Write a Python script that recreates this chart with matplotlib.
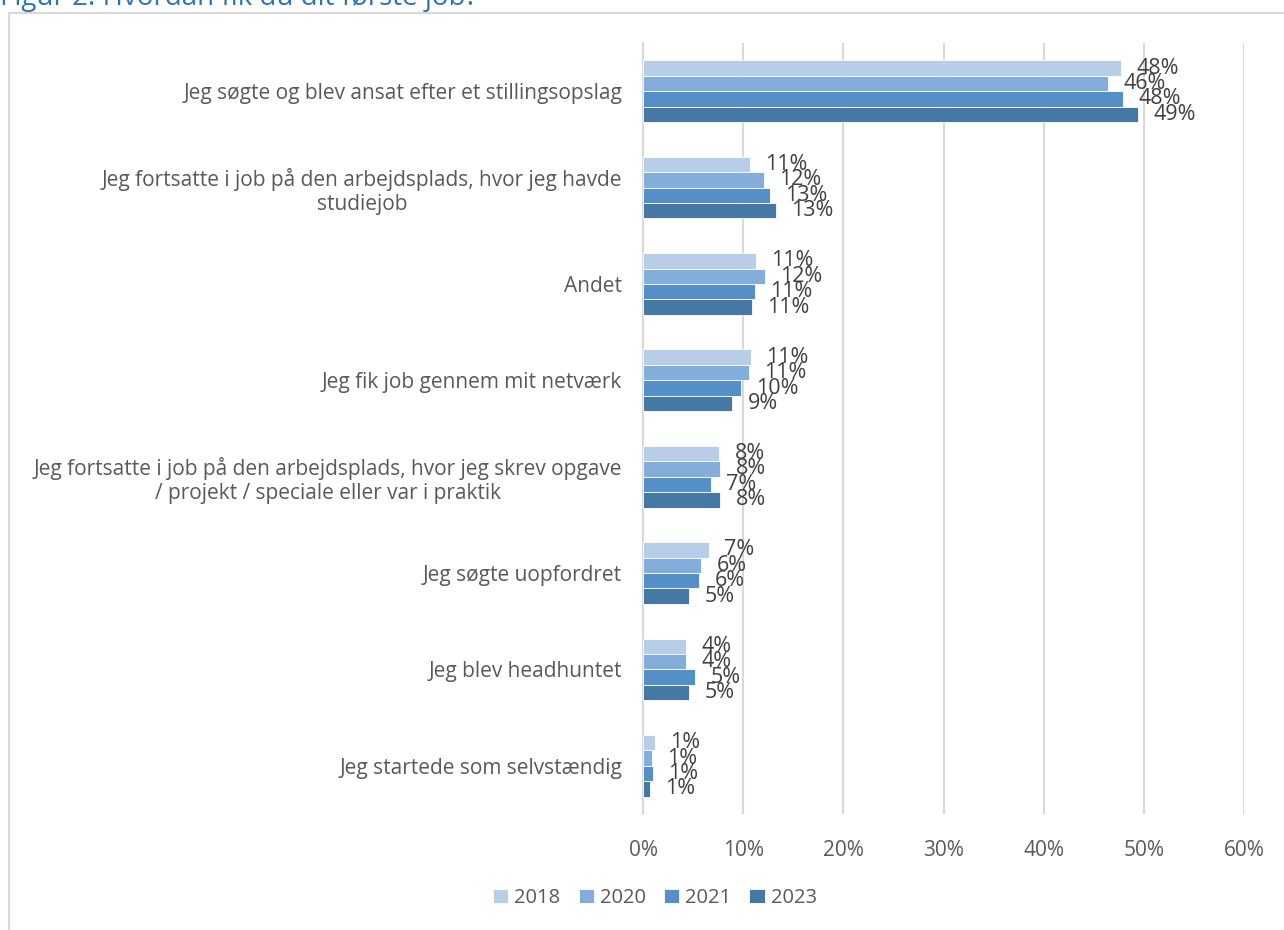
import matplotlib
matplotlib.use("Agg")
import matplotlib.pyplot as plt
from matplotlib.patches import Rectangle
import numpy as np

categories = [
    "Jeg søgte og blev ansat efter et stillingsopslag",
    "Jeg fortsatte i job på den arbejdsplads, hvor jeg havde\nstudiejob",
    "Andet",
    "Jeg fik job gennem mit netværk",
    "Jeg fortsatte i job på den arbejdsplads, hvor jeg skrev opgave\n/ projekt / speciale eller var i praktik",
    "Jeg søgte uopfordret",
    "Jeg blev headhuntet",
    "Jeg startede som selvstændig",
]
years = ["2018", "2020", "2021", "2023"]
v2018 = [47.7, 10.7, 11.3, 10.8, 7.6, 6.6, 4.3, 1.2]
v2020 = [46.4, 12.1, 12.2, 10.6, 7.7, 5.8, 4.3, 0.9]
v2021 = [47.9, 12.7, 11.2, 9.8, 6.8, 5.6, 5.2, 1.0]
v2023 = [49.4, 13.3, 10.9, 8.9, 7.7, 4.6, 4.6, 0.7]
series = [v2018, v2020, v2021, v2023]
colors = ["#B7CDE8", "#83AEDC", "#5490C7", "#4678A6"]
xticks = [0, 10, 20, 30, 40, 50, 60]

plt.rcParams['font.family'] = ['Open Sans', 'DejaVu Sans']

fig = plt.figure(figsize=(12.84, 9.30), dpi=100)
ax = fig.add_axes([643/1284, 1-814/930, 601/1284, (814-43)/930])

n = len(categories)
y = np.arange(n)
h = 0.16
for i, (vals, c, yr) in enumerate(zip(series, colors, years)):
    pos = y + (i - 1.5) * h
    ax.barh(pos, vals, height=h, color=c, edgecolor="white", linewidth=0.6, label=yr, zorder=3)
    for p, v in zip(pos, vals):
        ax.annotate(f"{round(v)}%", xy=(v, p), xytext=(11, 0), textcoords="offset points",
                    va="center", ha="left", fontsize=15.5, color="#404040", zorder=4)

ax.set_ylim(n - 0.5, -0.5)
ax.set_xlim(0, 60)
ax.set_xticks(xticks)
ax.set_xticklabels([f"{t}%" for t in xticks], fontsize=15, color="#595959")
ax.set_yticks(y)
ax.set_yticklabels(categories, fontsize=15, color="#595959", ha="right", multialignment="center")
ax.tick_params(axis="y", length=0, pad=15)
ax.tick_params(axis="x", length=0, pad=19)
ax.grid(axis="x", color="#D9D9D9", linewidth=1.5, zorder=0)
for s in ["top", "right", "bottom"]:
    ax.spines[s].set_visible(False)
ax.spines["left"].set_color("#D9D9D9")
ax.spines["left"].set_linewidth(1.5)

leg = fig.legend(loc="center", bbox_to_anchor=(655/1284, 1-898/930), ncol=4, frameon=False,
                 fontsize=14.5, handlelength=0.75, handleheight=0.75, handletextpad=0.3, columnspacing=0.9)
for t in leg.get_texts():
    t.set_color("#595959")

fig.patches.append(Rectangle((9/1284, -0.1), 1.2, 1-13/930+0.1, transform=fig.transFigure,
                             fill=False, edgecolor="#D9D9D9", linewidth=1.5))
fig.text(0.0, 1-5/930, "Figur 2: Hvordan fik du dit første job?", fontsize=20, color="#2E74B5",
         ha="left", va="baseline")

fig.savefig("out.png", dpi=100)
